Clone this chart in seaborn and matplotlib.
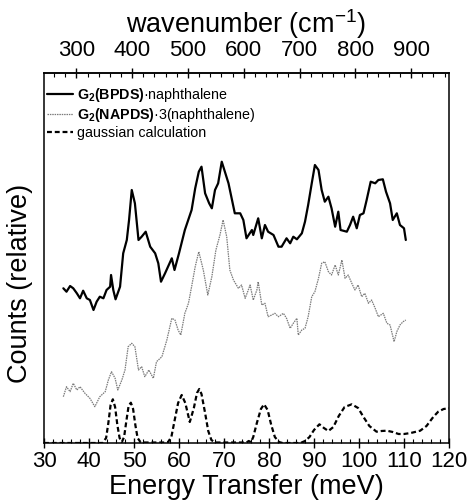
import matplotlib
matplotlib.use("Agg")
import matplotlib.pyplot as plt
import seaborn as sns
import pandas as pd
from matplotlib.ticker import MultipleLocator, NullLocator

# ---- data (y in relative counts, arbitrary units) ----
bpds_x = [34.3, 35.0, 35.8, 36.5, 37.3, 38.0, 38.7, 39.5, 40.2, 41.0, 41.7, 42.4, 43.2, 43.9,
          44.7, 44.9, 45.4, 45.9, 46.9, 47.6, 48.4, 48.9, 49.5, 50.2, 51.0, 51.7, 52.6, 53.6,
          54.7, 55.4, 56.0, 56.9, 58.4, 59.0, 60.0, 61.3, 62.8, 63.6, 64.4, 65.0, 65.8, 66.7,
          67.3, 68.0, 68.7, 69.5, 71.0, 72.4, 73.6, 74.3, 75.0, 76.2, 76.5, 77.6, 78.4, 79.1,
          79.8, 81.0, 82.1, 82.8, 83.9, 84.7, 85.4, 86.2, 87.3, 88.0, 88.7, 89.5, 90.2, 91.0,
          91.7, 92.4, 93.2, 93.9, 94.7, 95.4, 95.9, 97.3, 98.0, 98.7, 99.5, 100.2, 101.0,
          101.7, 102.6, 103.6, 104.3, 105.3, 106.0, 106.9, 107.5, 108.4, 109.1, 110.0, 110.4]
bpds_y = [154.7, 151.3, 157.0, 154.7, 149.7, 144.7, 152.3, 144.7, 143.0, 133.0, 141.3, 146.3,
          144.7, 153.0, 156.3, 168.0, 153.0, 143.7, 156.3, 189.7, 203.0, 223.0, 253.0, 239.7,
          203.0, 206.3, 211.3, 196.3, 189.7, 179.7, 161.3, 169.7, 184.7, 173.0, 189.7, 213.0,
          233.0, 254.7, 271.3, 276.3, 249.7, 239.7, 234.7, 253.0, 259.7, 281.3, 259.7, 229.7,
          229.7, 223.0, 204.7, 213.0, 208.0, 224.7, 204.7, 218.0, 211.3, 208.0, 196.3, 196.3,
          204.7, 199.7, 206.3, 203.7, 209.7, 221.3, 238.0, 259.7, 278.0, 273.0, 253.0, 241.3,
          246.3, 234.7, 216.3, 231.3, 213.0, 211.3, 218.0, 226.3, 214.7, 228.0, 229.7, 243.0,
          261.3, 259.7, 263.0, 263.7, 251.3, 239.7, 223.0, 229.7, 218.0, 214.7, 203.0]

napds_x = [34.3, 35.0, 35.8, 36.5, 37.3, 38.0, 39.1, 40.2, 41.3, 42.4, 43.6, 44.3, 45.0, 45.8,
           46.4, 47.3, 48.0, 48.7, 49.5, 50.2, 51.0, 51.7, 52.4, 53.3, 54.3, 55.0, 56.2, 57.3,
           58.4, 59.1, 59.8, 60.4, 61.3, 62.1, 62.8, 63.6, 64.4, 65.4, 66.4, 67.3, 68.2, 69.1,
           69.8, 70.6, 71.3, 72.1, 73.2, 73.9, 74.7, 75.4, 75.8, 76.5, 77.3, 77.6, 78.4, 79.1,
           79.8, 80.6, 81.3, 82.1, 83.2, 83.9, 84.7, 85.4, 86.2, 86.5, 87.3, 88.0, 88.7, 89.5,
           90.2, 91.0, 91.7, 92.4, 93.2, 93.9, 94.7, 95.4, 96.2, 96.9, 97.6, 98.4, 99.1, 99.8,
           100.6, 101.3, 102.1, 102.8, 103.6, 104.3, 105.4, 106.2, 106.9, 107.8, 108.4, 109.1,
           109.8, 110.4]
napds_y = [46.3, 56.3, 51.3, 59.7, 53.0, 56.3, 49.7, 44.7, 36.3, 46.3, 51.3, 63.0, 71.3, 64.7,
           53.0, 63.0, 73.0, 96.3, 99.7, 96.3, 73.0, 76.3, 66.3, 73.0, 64.7, 81.3, 86.3, 103.0,
           124.7, 123.0, 113.0, 108.0, 129.7, 139.7, 156.3, 176.3, 191.3, 173.0, 148.0, 166.3,
           193.0, 208.0, 223.0, 206.3, 173.0, 163.0, 154.7, 158.0, 144.7, 153.0, 158.0, 143.0,
           153.0, 161.3, 138.0, 139.7, 126.3, 128.0, 129.7, 126.3, 129.7, 124.7, 114.7, 119.7,
           124.7, 108.0, 113.0, 114.7, 126.3, 146.3, 151.3, 164.7, 179.7, 181.3, 171.3, 168.0,
           178.0, 168.0, 183.0, 164.7, 168.0, 159.7, 153.0, 158.0, 146.3, 149.7, 139.7, 143.0,
           134.7, 126.3, 129.7, 119.7, 118.0, 101.3, 111.3, 118.0, 121.3, 123.0]

gauss_x = [30.0, 43.0, 43.8, 44.3, 44.8, 45.3, 45.8, 46.3, 46.8, 47.3, 47.8, 48.3, 48.8, 49.3,
           49.8, 50.3, 50.8, 51.5, 57.5, 58.3, 59.0, 59.8, 60.6, 61.4, 62.4, 63.3, 64.0,
           64.5, 65.0, 65.8, 66.5, 67.2, 68.0, 75.0, 75.5, 76.0, 76.5, 77.3, 78.2, 78.9,
           79.7, 80.5, 81.3, 82.2, 83.0, 87.0, 88.0, 89.0, 90.0, 91.2, 92.2, 93.2, 94.3,
           95.5, 96.8, 98.4, 99.8, 101.0, 102.3, 103.9, 105.0, 106.2, 107.5, 108.8, 110.0,
           111.5, 113.6, 115.0, 116.5, 117.6, 118.8, 120.0]
gauss_y = [0, 0, 5, 20, 38, 43.7, 36, 18, 5, 1, 6, 22, 37, 40.3,
           34, 18, 5, 0.5, 0.5, 6, 22, 40, 48, 40, 21, 35, 50,
           54, 49, 30, 12, 3, 0.5, 0.5, 2, 0.8, 6, 20, 34, 38.7,
           33, 18, 6, 1, 0, 0, 2, 6, 13, 18.7, 15, 12, 16,
           27, 36, 38.7, 35, 26, 17, 11.3, 12, 12.3, 11, 9, 9,
           10, 12.3, 17, 26, 31.3, 34, 34.7]

labels = [r"$\mathbf{G_2(BPDS)}$·naphthalene",
          r"$\mathbf{G_2(NAPDS)}$·3(naphthalene)",
          "gaussian calculation"]

top_ticks = [300, 400, 500, 600, 700, 800, 900]
MEV_TO_CM = 8.0655

# ---- style ----
sns.set_theme(style="ticks")
plt.rcParams["font.family"] = ["Liberation Sans", "DejaVu Sans"]
plt.rcParams["mathtext.fontset"] = "custom"
plt.rcParams["mathtext.rm"] = "Liberation Sans"
plt.rcParams["mathtext.bf"] = "Liberation Sans:bold"
plt.rcParams["mathtext.it"] = "Liberation Sans:italic"
plt.rcParams["text.color"] = "black"
plt.rcParams["axes.labelcolor"] = "black"
plt.rcParams["xtick.color"] = "black"
plt.rcParams["ytick.color"] = "black"

fig = plt.figure(figsize=(4.67, 5.04), dpi=100)
ax = fig.add_axes([44 / 467, 61 / 504, 405 / 467, 370 / 504])

df1 = pd.DataFrame({"x": bpds_x, "y": bpds_y})
df2 = pd.DataFrame({"x": napds_x, "y": napds_y})
df3 = pd.DataFrame({"x": gauss_x, "y": gauss_y})

sns.lineplot(data=df1, x="x", y="y", ax=ax, color="black", lw=1.6, sort=False, label=labels[0])
sns.lineplot(data=df2, x="x", y="y", ax=ax, color="#7a7a7a", lw=0.9, sort=False,
             linestyle=(0, (1.2, 0.7)), label=labels[1])
sns.lineplot(data=df3, x="x", y="y", ax=ax, color="black", lw=1.6, sort=False,
             linestyle=(0, (2.2, 1.3)), label=labels[2])

ax.set_xlim(30, 120)
ax.set_ylim(0, 370)
ax.xaxis.set_major_locator(MultipleLocator(10))
ax.xaxis.set_minor_locator(MultipleLocator(2))
ax.yaxis.set_major_locator(NullLocator())
ax.yaxis.set_minor_locator(NullLocator())
ax.tick_params(axis="x", which="major", direction="inout", length=7, width=1, labelsize=16, pad=2)
ax.tick_params(axis="x", which="minor", direction="in", length=3, width=0.8)
for s in ax.spines.values():
    s.set_linewidth(1.1)
    s.set_color("black")

ax.set_xlabel("Energy Transfer (meV)", fontsize=19.5, labelpad=1.5)
ax.set_ylabel("Counts (relative)", fontsize=19.5)
ax.yaxis.set_label_coords(-0.027, 0.431)

sec = ax.secondary_xaxis("top", functions=(lambda e: e * MEV_TO_CM, lambda w: w / MEV_TO_CM))
sec.set_xticks(top_ticks)
sec.xaxis.set_minor_locator(MultipleLocator(20))
sec.tick_params(axis="x", which="major", direction="inout", length=7, width=1, labelsize=16, pad=5)
sec.tick_params(axis="x", which="minor", direction="in", length=3, width=0.8)
sec.set_xlabel("wavenumber (cm$^{-1}$)", fontsize=19.5, labelpad=5.5)

leg = ax.legend(loc="upper left", bbox_to_anchor=(0.0074, 0.965), frameon=False, fontsize=10.3,
                handlelength=1.8, handletextpad=0.27, labelspacing=0.15, borderaxespad=0.0,
                borderpad=0.0)

fig.savefig("out.png", dpi=100)
